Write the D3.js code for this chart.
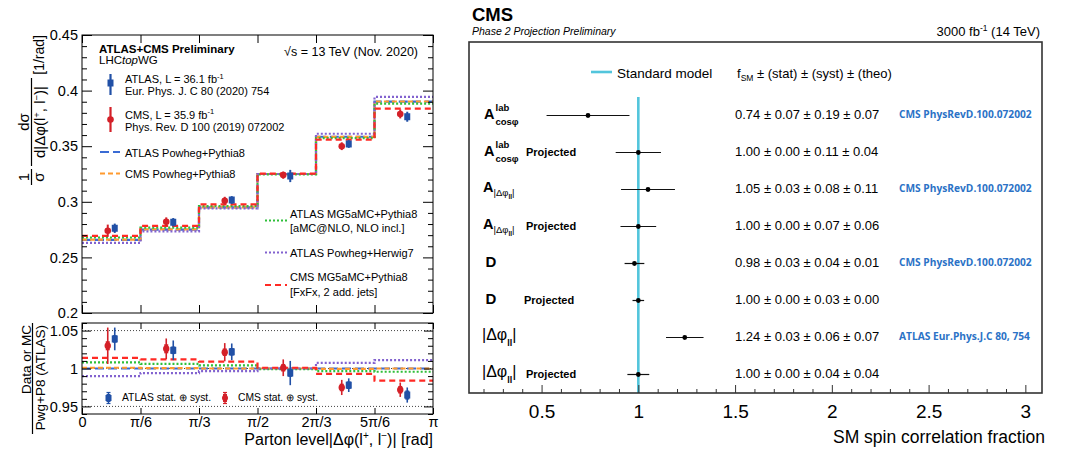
<!DOCTYPE html>
<html>
<head>
<meta charset="utf-8">
<script src="https://cdn.jsdelivr.net/npm/d3@7"></script>
<style>
  body { margin: 0; background: #fff; }
  svg { display: block; font-family: "Liberation Sans", Arial, Helvetica, sans-serif; }
</style>
</head>
<body>
<svg id="chart" width="1070" height="454"></svg>
<script>
// ======================= data: |Δφ(l+,l−)| spectrum =======================
const PI = Math.PI;
const binEdges = [0, PI / 6, PI / 3, PI / 2, 2 * PI / 3, 5 * PI / 6, PI];
const xTickLabels = ["0", "π/6", "π/3", "π/2", "2π/3", "5π/6", "π"];
const yUpperTicks = [0.2, 0.25, 0.3, 0.35, 0.4, 0.45];
const yUpperTickLabels = ["0.2", "0.25", "0.3", "0.35", "0.4", "0.45"];
const yRatioTicks = [0.95, 1, 1.05];
const yRatioTickLabels = ["0.95", "1", "1.05"];

// measured normalised cross sections [1/rad]
const atlasData = [0.2762, 0.2816, 0.3016, 0.3232, 0.3520, 0.3765];
const atlasErr  = [0.0042, 0.0038, 0.0035, 0.0055, 0.0035, 0.0045];
const cmsData   = [0.2740, 0.2820, 0.3010, 0.3240, 0.3500, 0.3790];
const cmsErr    = [0.0055, 0.0040, 0.0035, 0.0032, 0.0035, 0.0040];

// predictions [1/rad]
const atlasPwgPy8 = [0.2657, 0.2750, 0.2950, 0.3250, 0.3585, 0.3900];
const cmsPwgPy8   = [0.2660, 0.2752, 0.2950, 0.3250, 0.3583, 0.3902];
const atlasMG5Py8 = [0.2679, 0.2767, 0.2962, 0.3247, 0.3572, 0.3883];
const atlasPwgH7  = [0.2630, 0.2734, 0.2940, 0.3250, 0.3612, 0.3943];
const cmsMG5Py8   = [0.2694, 0.2783, 0.2977, 0.3253, 0.3560, 0.3838];

// ratios to ATLAS Powheg+Pythia8
const ratioAtlas     = [1.039, 1.024, 1.022, 0.994, 0.978, 0.965];
const ratioAtlasTot  = [0.015, 0.013, 0.011, 0.016, 0.009, 0.010];
const ratioAtlasStat = [0.005, 0.005, 0.005, 0.005, 0.005, 0.006];
const ratioCms       = [1.030, 1.026, 1.0215, 1.001, 0.975, 0.972];
const ratioCmsTot    = [0.024, 0.0136, 0.012, 0.011, 0.010, 0.0095];
const ratioCmsStat   = [0.006, 0.006, 0.005, 0.005, 0.005, 0.005];
const ratioPwgPy8    = [1.000, 1.000, 1.000, 1.000, 1.000, 1.000];
const ratioCmsPwgPy8 = [1.001, 1.0005, 1.000, 1.000, 0.9995, 1.000];
const ratioMG5Py8    = [1.008, 1.006, 1.004, 0.999, 0.9965, 0.9957];
const ratioPwgH7     = [0.990, 0.994, 0.9965, 1.000, 1.0075, 1.011];
const ratioCmsMG5    = [1.014, 1.012, 1.009, 1.001, 0.993, 0.984];

// ======================= data: spin correlation fractions =======================
const obsKinds  = ["Acos", "Acos", "Adphi", "Adphi", "D", "D", "dphi", "dphi"];
const projected = [false, true, false, true, false, true, false, true];
const fsm     = [0.74, 1.00, 1.05, 1.00, 0.98, 1.00, 1.24, 1.00];
const errStat = [0.07, 0.00, 0.03, 0.00, 0.03, 0.00, 0.03, 0.00];
const errSyst = [0.19, 0.11, 0.08, 0.07, 0.04, 0.03, 0.06, 0.04];
const errTheo = [0.07, 0.04, 0.11, 0.06, 0.01, 0.00, 0.07, 0.04];
const refs = ["CMS PhysRevD.100.072002", "", "CMS PhysRevD.100.072002", "",
              "CMS PhysRevD.100.072002", "", "ATLAS Eur.Phys.J.C 80, 754", ""];
const fTicks = [0.5, 1, 1.5, 2, 2.5, 3];
const fTickLabels = ["0.5", "1", "1.5", "2", "2.5", "3"];

// ======================= helpers =======================
const svg = d3.select("#chart");
const BLUE_PT = "#2150a6", RED_PT = "#d42028";

function rich(sel, parts) {
  let cur = 0;
  parts.forEach(([s, o = {}]) => {
    const shift = o.shift || 0;
    const t = sel.append("tspan").text(s).attr("dy", shift - cur);
    cur = shift;
    if (o.size) t.attr("font-size", o.size);
    if (o.weight) t.attr("font-weight", o.weight);
    if (o.style) t.attr("font-style", o.style);
  });
  return sel;
}
function label(x, y, size, opts = {}) {
  const t = svg.append("text").attr("x", x).attr("y", y).attr("font-size", size).attr("fill", "#000");
  if (opts.anchor) t.attr("text-anchor", opts.anchor);
  if (opts.weight) t.attr("font-weight", opts.weight);
  if (opts.style) t.attr("font-style", opts.style);
  if (opts.fill) t.attr("fill", opts.fill);
  if (opts.family) t.attr("font-family", opts.family);
  return t;
}
function rotLabel(x, y, size, anchor) {
  return svg.append("text").attr("transform", `translate(${x},${y}) rotate(-90)`)
    .attr("font-size", size).attr("text-anchor", anchor).attr("fill", "#000");
}
function styleAxis(g, size) {
  g.select(".domain").remove();
  g.selectAll(".tick line").attr("stroke", "#000").attr("stroke-width", 1);
  g.selectAll(".tick text").attr("font-size", size).attr("fill", "#000")
    .attr("font-family", '"Liberation Sans", Arial, sans-serif');
  g.attr("font-family", null).attr("font-size", null);
}
function minorValues(lo, hi, step, majors) {
  const out = [];
  for (let v = lo; v <= hi + 1e-9; v += step) {
    const r = Math.round(v * 1000) / 1000;
    if (!majors.some(m => Math.abs(m - r) < 1e-6)) out.push(r);
  }
  return out;
}

// ======================= left: scales =======================
const xL = d3.scaleLinear().domain([0, PI]).range([82, 433]);
const yU = d3.scaleLinear().domain([0.2, 0.45]).range([313, 35]);
const yR = d3.scaleLinear().domain([0.94, 1.06]).range([414, 323]);

const defs = svg.append("defs");
defs.append("clipPath").attr("id", "clipU").append("rect")
  .attr("x", xL(0)).attr("y", yU(0.45)).attr("width", xL(PI) - xL(0)).attr("height", yU(0.2) - yU(0.45));
defs.append("clipPath").attr("id", "clipR").append("rect")
  .attr("x", xL(0)).attr("y", yR(1.06)).attr("width", xL(PI) - xL(0)).attr("height", yR(0.94) - yR(1.06));

// predictions: style table
const mcStyles = [
  { up: atlasPwgPy8, ratio: ratioPwgPy8,    color: "#3a6bd4", dash: "9,4",  name: "ATLAS Powheg+Pythia8" },
  { up: cmsPwgPy8,   ratio: ratioCmsPwgPy8, color: "#ff9a2e", dash: "5,3",  name: "CMS Powheg+Pythia8" },
  { up: atlasMG5Py8, ratio: ratioMG5Py8,    color: "#2fbf3a", dash: "2,2",  name: "ATLAS MG5aMC+Pythia8" },
  { up: atlasPwgH7,  ratio: ratioPwgH7,     color: "#8262cf", dash: "2,2",  name: "ATLAS Powheg+Herwig7" },
  { up: cmsMG5Py8,   ratio: ratioCmsMG5,    color: "#ff2a24", dash: "6,4",  name: "CMS MG5aMC+Pythia8" }
];

function stepLine(y) {
  return d3.line().x((d, i) => xL(binEdges[i])).y(d => y(d)).curve(d3.curveStepAfter);
}

// ---------- upper panel ----------
const gU = svg.append("g").attr("clip-path", "url(#clipU)");
mcStyles.forEach(s => {
  const vals = s.up.concat([s.up[s.up.length - 1]]);
  gU.append("path").attr("d", stepLine(yU)(vals)).attr("fill", "none")
    .attr("stroke", s.color).attr("stroke-width", 2.2).attr("stroke-dasharray", s.dash);
});
const centers = binEdges.slice(0, -1).map((e, i) => (e + binEdges[i + 1]) / 2);

function drawPoint(g, cx, cy, yTop, yBot, kind, thick) {
  g.append("line").attr("x1", cx).attr("x2", cx).attr("y1", yTop).attr("y2", yBot)
    .attr("stroke", kind === "atlas" ? BLUE_PT : RED_PT).attr("stroke-width", thick || 2);
  if (kind === "atlas") {
    g.append("rect").attr("x", cx - 3).attr("y", cy - 3.5).attr("width", 6).attr("height", 7).attr("fill", BLUE_PT);
  } else {
    g.append("circle").attr("cx", cx).attr("cy", cy).attr("r", 3.3).attr("fill", RED_PT);
  }
}
const gUP = svg.append("g");
centers.forEach((c, i) => {
  drawPoint(gUP, xL(c) - 3.5, yU(cmsData[i]), yU(cmsData[i] + cmsErr[i]), yU(cmsData[i] - cmsErr[i]), "cms");
  drawPoint(gUP, xL(c) + 3.5, yU(atlasData[i]), yU(atlasData[i] + atlasErr[i]), yU(atlasData[i] - atlasErr[i]), "atlas");
});

// upper axes
const yUMinor = minorValues(0.2, 0.45, 0.01, yUpperTicks);
let g;
g = svg.append("g").attr("transform", `translate(${xL(0)},0)`)
  .call(d3.axisLeft(yU).tickValues(yUpperTicks).tickFormat((d, i) => yUpperTickLabels[i]).tickSize(-10).tickPadding(4));
styleAxis(g, 14.5);
g = svg.append("g").attr("transform", `translate(${xL(0)},0)`)
  .call(d3.axisLeft(yU).tickValues(yUMinor).tickFormat("").tickSize(-5)); styleAxis(g, 10);
g = svg.append("g").attr("transform", `translate(${xL(PI)},0)`)
  .call(d3.axisRight(yU).tickValues(yUpperTicks).tickFormat("").tickSize(-10)); styleAxis(g, 10);
g = svg.append("g").attr("transform", `translate(${xL(PI)},0)`)
  .call(d3.axisRight(yU).tickValues(yUMinor).tickFormat("").tickSize(-5)); styleAxis(g, 10);
g = svg.append("g").attr("transform", `translate(0,${yU(0.2)})`)
  .call(d3.axisBottom(xL).tickValues(binEdges).tickFormat("").tickSize(-8)); styleAxis(g, 10);
g = svg.append("g").attr("transform", `translate(0,${yU(0.45)})`)
  .call(d3.axisTop(xL).tickValues(binEdges).tickFormat("").tickSize(-8)); styleAxis(g, 10);
svg.append("rect").attr("x", xL(0)).attr("y", yU(0.45)).attr("width", xL(PI) - xL(0))
  .attr("height", yU(0.2) - yU(0.45)).attr("fill", "none").attr("stroke", "#000").attr("stroke-width", 1);

// ---------- ratio panel ----------
yRatioTicks.forEach(v => {
  svg.append("line").attr("x1", xL(0)).attr("x2", xL(PI)).attr("y1", yR(v)).attr("y2", yR(v))
    .attr("stroke", "#444").attr("stroke-width", 1).attr("stroke-dasharray", "1,2");
});
const gR = svg.append("g").attr("clip-path", "url(#clipR)");
mcStyles.forEach(s => {
  const vals = s.ratio.concat([s.ratio[s.ratio.length - 1]]);
  gR.append("path").attr("d", stepLine(yR)(vals)).attr("fill", "none")
    .attr("stroke", s.color).attr("stroke-width", 2.2).attr("stroke-dasharray", s.dash);
});
function drawRatioPoint(g, cx, v, tot, stat, kind) {
  const col = kind === "atlas" ? BLUE_PT : RED_PT;
  g.append("line").attr("x1", cx).attr("x2", cx).attr("y1", yR(v + tot)).attr("y2", yR(v - tot))
    .attr("stroke", col).attr("stroke-width", 1.6);
  g.append("line").attr("x1", cx).attr("x2", cx).attr("y1", yR(v + stat)).attr("y2", yR(v - stat))
    .attr("stroke", col).attr("stroke-width", 4);
  if (kind === "atlas") {
    g.append("rect").attr("x", cx - 3).attr("y", yR(v) - 3.5).attr("width", 6).attr("height", 7).attr("fill", col);
  } else {
    g.append("circle").attr("cx", cx).attr("cy", yR(v)).attr("r", 3.2).attr("fill", col);
  }
}
const gRP = svg.append("g");
centers.forEach((c, i) => {
  drawRatioPoint(gRP, xL(c) - 3.5, ratioCms[i], ratioCmsTot[i], ratioCmsStat[i], "cms");
  drawRatioPoint(gRP, xL(c) + 3.5, ratioAtlas[i], ratioAtlasTot[i], ratioAtlasStat[i], "atlas");
});
const yRMinor = minorValues(0.94, 1.06, 0.01, yRatioTicks);
g = svg.append("g").attr("transform", `translate(${xL(0)},0)`)
  .call(d3.axisLeft(yR).tickValues(yRatioTicks).tickFormat((d, i) => yRatioTickLabels[i]).tickSize(-9).tickPadding(4));
styleAxis(g, 14.5);
g = svg.append("g").attr("transform", `translate(${xL(0)},0)`)
  .call(d3.axisLeft(yR).tickValues(yRMinor).tickFormat("").tickSize(-5)); styleAxis(g, 10);
g = svg.append("g").attr("transform", `translate(${xL(PI)},0)`)
  .call(d3.axisRight(yR).tickValues(yRatioTicks).tickFormat("").tickSize(-9)); styleAxis(g, 10);
g = svg.append("g").attr("transform", `translate(${xL(PI)},0)`)
  .call(d3.axisRight(yR).tickValues(yRMinor).tickFormat("").tickSize(-5)); styleAxis(g, 10);
g = svg.append("g").attr("transform", `translate(0,${yR(0.94)})`)
  .call(d3.axisBottom(xL).tickValues(binEdges).tickFormat((d, i) => xTickLabels[i]).tickSize(-6).tickPadding(2.5));
styleAxis(g, 14.5);
g = svg.append("g").attr("transform", `translate(0,${yR(1.06)})`)
  .call(d3.axisTop(xL).tickValues(binEdges).tickFormat("").tickSize(-6)); styleAxis(g, 10);
svg.append("rect").attr("x", xL(0)).attr("y", yR(1.06)).attr("width", xL(PI) - xL(0))
  .attr("height", yR(0.94) - yR(1.06)).attr("fill", "none").attr("stroke", "#000").attr("stroke-width", 1);

// ---------- left titles ----------
rich(label(433, 445, 16, { anchor: "end" }),
  [["Parton level|Δφ(l"], ["+", { size: 10, shift: -6 }], [", l"], ["−", { size: 10, shift: -6 }], [")| [rad]"]]);

// y title, upper: 1/σ dσ/d|Δφ| [1/rad]
rotLabel(29, 177, 15, "middle").text("1");
svg.append("line").attr("x1", 31.5).attr("x2", 31.5).attr("y1", 169).attr("y2", 185).attr("stroke", "#000").attr("stroke-width", 1.2);
rotLabel(44, 177, 15, "middle").text("σ");
rotLabel(29, 122, 15, "middle").text("dσ");
svg.append("line").attr("x1", 31.5).attr("x2", 31.5).attr("y1", 78).attr("y2", 166).attr("stroke", "#000").attr("stroke-width", 1.2);
rich(rotLabel(45, 122, 15, "middle"),
  [["d|Δφ(l"], ["+", { size: 9.5, shift: -5.5 }], [", l"], ["−", { size: 9.5, shift: -5.5 }], [")|"]]);
rotLabel(44, 35, 14, "end").text("[1/rad]");

// y title, ratio
rotLabel(30.5, 325, 13.5, "end").text("Data or MC");
svg.append("line").attr("x1", 32.5).attr("x2", 32.5).attr("y1", 323).attr("y2", 434).attr("stroke", "#000").attr("stroke-width", 1.2);
rotLabel(44.5, 325, 13.5, "end").text("Pwg+P8 (ATLAS)");

// ---------- left legend ----------
label(99, 53, 11.5, { weight: "bold" }).text("ATLAS+CMS Preliminary");
rich(label(99, 64, 11.5), [["LHC"], ["top", { style: "italic" }], ["WG"]]);
label(418, 56, 12.5, { anchor: "end" }).text("√s = 13 TeV (Nov. 2020)");

drawPoint(svg, 110.5, 83, 74, 95, "atlas", 2.2);
rich(label(125, 83, 11), [["ATLAS, L = 36.1 fb"], ["-1", { size: 7.5, shift: -4.5 }]]);
label(125, 94.5, 11).text("Eur. Phys. J. C 80 (2020) 754");
drawPoint(svg, 110.5, 119.5, 107, 132, "cms", 2.2);
rich(label(125, 118.5, 11), [["CMS, L = 35.9 fb"], ["-1", { size: 7.5, shift: -4.5 }]]);
label(125, 131, 11).text("Phys. Rev. D 100 (2019) 072002");

function legLine(x1, x2, y, s) {
  svg.append("line").attr("x1", x1).attr("x2", x2).attr("y1", y).attr("y2", y)
    .attr("stroke", s.color).attr("stroke-width", 2.2).attr("stroke-dasharray", s.dash);
}
legLine(100, 120, 152, mcStyles[0]);
label(125, 156.5, 11).text(mcStyles[0].name);
legLine(100, 120, 173.5, mcStyles[1]);
label(125, 177.5, 11).text(mcStyles[1].name);
legLine(265, 287, 220.5, mcStyles[2]);
label(290, 217.5, 11).text(mcStyles[2].name);
label(290, 232, 11).text("[aMC@NLO, NLO incl.]");
legLine(265, 287, 252.5, mcStyles[3]);
label(290, 256.5, 11).text(mcStyles[3].name);
legLine(265, 287, 285, mcStyles[4]);
label(290, 281, 11).text(mcStyles[4].name);
label(290, 295.5, 11).text("[FxFx, 2 add. jets]");

function legErr(cx, cy, kind) {
  const col = kind === "atlas" ? BLUE_PT : RED_PT;
  [cy - 5.5, cy + 5.5].forEach(y => svg.append("line").attr("x1", cx - 2).attr("x2", cx + 2)
    .attr("y1", y).attr("y2", y).attr("stroke", col).attr("stroke-width", 1.2));
  svg.append("line").attr("x1", cx).attr("x2", cx).attr("y1", cy - 5.5).attr("y2", cy + 5.5)
    .attr("stroke", col).attr("stroke-width", 1.4);
  svg.append("line").attr("x1", cx).attr("x2", cx).attr("y1", cy - 4).attr("y2", cy + 4)
    .attr("stroke", col).attr("stroke-width", 4);
  if (kind === "atlas") svg.append("rect").attr("x", cx - 3).attr("y", cy - 3).attr("width", 6).attr("height", 6).attr("fill", col);
  else svg.append("circle").attr("cx", cx).attr("cy", cy).attr("r", 3).attr("fill", col);
}
legErr(108.5, 398, "atlas");
label(122, 400.5, 10.3).text("ATLAS stat. ⊕ syst.");
legErr(225, 398, "cms");
label(238, 400.5, 10.3).text("CMS stat. ⊕ syst.");

// ======================= right: spin correlation summary =======================
const xF = d3.scaleLinear().domain([0.125, 3.086]).range([469, 1042]);
const yRow = d3.scalePoint().domain(d3.range(fsm.length)).range([115.5, 374.5]);
const frameTop = 42, frameBot = 393;

label(472, 21, 18.5, { weight: "bold" }).text("CMS");
label(472, 35, 10.5, { style: "italic" }).text("Phase 2 Projection Preliminary");
rich(label(1040, 36, 13, { anchor: "end" }), [["3000 fb"], ["-1", { size: 8.5, shift: -5 }], [" (14 TeV)", { shift: 0 }]]);

// standard model reference
const SM_COL = "#52c5dc";
svg.append("line").attr("x1", xF(1)).attr("x2", xF(1)).attr("y1", 97).attr("y2", frameBot)
  .attr("stroke", SM_COL).attr("stroke-width", 2.6);
svg.append("line").attr("x1", 591).attr("x2", 612).attr("y1", 72).attr("y2", 72)
  .attr("stroke", SM_COL).attr("stroke-width", 2.6);
label(617, 77.5, 13.5).text("Standard model");
rich(label(737, 77.5, 13), [["f"], ["SM", { size: 8.5, shift: 3 }], [" ± (stat) ± (syst) ± (theo)", { shift: 0 }]]);

// measurements
const gF = svg.append("g");
fsm.forEach((v, i) => {
  const y = yRow(i);
  const tot = Math.sqrt(errStat[i] ** 2 + errSyst[i] ** 2 + errTheo[i] ** 2);
  gF.append("line").attr("x1", xF(v - tot)).attr("x2", xF(v + tot)).attr("y1", y).attr("y2", y)
    .attr("stroke", "#111").attr("stroke-width", 1.2);
  gF.append("circle").attr("cx", xF(v)).attr("cy", y).attr("r", 2.4).attr("fill", "#000");
  const f = d => d.toFixed(2);
  label(735, y + 3, 13).text(`${f(v)} ± ${f(errStat[i])} ± ${f(errSyst[i])} ± ${f(errTheo[i])}`);
  if (refs[i]) label(899, y + 2.5, 10.2, { weight: "bold", fill: "#2b72c6", family: '"Open Sans", sans-serif' }).text(refs[i]);

  // observable name
  const k = obsKinds[i];
  if (k === "Acos") {
    label(484, y + 3.5, 14.5, { weight: "bold" }).text("A");
    label(495.5, y - 4.5, 9.5, { weight: "bold" }).text("lab");
    label(495.5, y + 9, 9.5, { weight: "bold" }).text("cosφ");
  } else if (k === "Adphi") {
    rich(label(483, y + 2, 14.5, { weight: "bold" }),
      [["A"], ["|Δφ", { size: 9.5, shift: 4, weight: "normal" }], ["ll", { size: 6.5, shift: 7 }], ["|", { size: 9.5, shift: 4, weight: "normal" }]]);
  } else if (k === "D") {
    label(485.5, y + 3, 15, { weight: "bold" }).text("D");
  } else {
    rich(label(482, y + 2, 16), [["|Δφ"], ["ll", { size: 9, shift: 6, weight: "bold" }], ["|", { shift: 0 }]]);
  }
  if (projected[i]) label(k === "D" ? 524 : 526, y + 3.5, 11, { weight: "bold" }).text("Projected");
});

// axis
const fMinor = minorValues(0.2, 3.0, 0.1, fTicks);
g = svg.append("g").attr("transform", `translate(0,${frameBot})`)
  .call(d3.axisBottom(xF).tickValues(fTicks).tickFormat((d, i) => fTickLabels[i]).tickSize(-8).tickPadding(12));
styleAxis(g, 19);
g.selectAll(".tick line").attr("stroke", "#333");
g = svg.append("g").attr("transform", `translate(0,${frameBot})`)
  .call(d3.axisBottom(xF).tickValues(fMinor).tickFormat("").tickSize(-4));
styleAxis(g, 10);
g.selectAll(".tick line").attr("stroke", "#333");
svg.append("rect").attr("x", 469).attr("y", frameTop).attr("width", 1042 - 469).attr("height", frameBot - frameTop)
  .attr("fill", "none").attr("stroke", "#333").attr("stroke-width", 1.6);
label(1045, 443, 17.5, { anchor: "end" }).text("SM spin correlation fraction");
</script>
</body>
</html>
